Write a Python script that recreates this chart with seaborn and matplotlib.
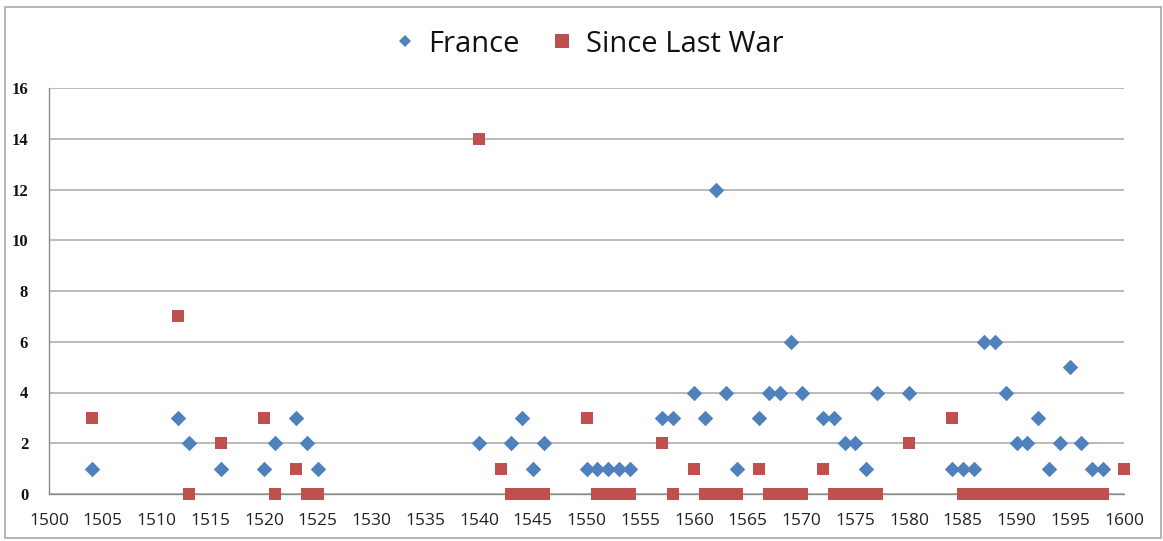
import matplotlib
matplotlib.use("Agg")
import matplotlib.pyplot as plt
import seaborn as sns
import pandas as pd
from matplotlib.lines import Line2D
from matplotlib.patches import Rectangle

# ---- data ----
france_years = [1504, 1512, 1513, 1516, 1520, 1521, 1523, 1524, 1525,
                1540, 1543, 1544, 1545, 1546,
                1550, 1551, 1552, 1553, 1554, 1557, 1558,
                1560, 1561, 1562, 1563, 1564, 1566, 1567, 1568, 1569, 1570,
                1572, 1573, 1574, 1575, 1576, 1577, 1580,
                1584, 1585, 1586, 1587, 1588, 1589, 1590, 1591, 1592, 1593,
                1594, 1595, 1596, 1597, 1598]
france_values = [1, 3, 2, 1, 1, 2, 3, 2, 1,
                 2, 2, 3, 1, 2,
                 1, 1, 1, 1, 1, 3, 3,
                 4, 3, 12, 4, 1, 3, 4, 4, 6, 4,
                 3, 3, 2, 2, 1, 4, 4,
                 1, 1, 1, 6, 6, 4, 2, 2, 3, 1,
                 2, 5, 2, 1, 1]

war_years = [1504, 1512, 1513, 1516, 1520, 1521, 1523, 1524, 1525,
             1540, 1542, 1543, 1544, 1545, 1546,
             1550, 1551, 1552, 1553, 1554, 1557, 1558,
             1560, 1561, 1562, 1563, 1564, 1566, 1567, 1568, 1569, 1570,
             1572, 1573, 1574, 1575, 1576, 1577, 1580,
             1584, 1585, 1586, 1587, 1588, 1589, 1590, 1591, 1592, 1593,
             1594, 1595, 1596, 1597, 1598, 1600]
war_values = [3, 7, 0, 2, 3, 0, 1, 0, 0,
              14, 1, 0, 0, 0, 0,
              3, 0, 0, 0, 0, 2, 0,
              1, 0, 0, 0, 0, 1, 0, 0, 0, 0,
              1, 0, 0, 0, 0, 0, 2,
              3, 0, 0, 0, 0, 0, 0, 0, 0, 0,
              0, 0, 0, 0, 0, 1]

series_names = ["France", "Since Last War"]
x_ticks = list(range(1500, 1601, 5))
y_ticks = list(range(0, 17, 2))

BLUE = "#4F81BD"
RED = "#C0504D"

df_fr = pd.DataFrame({"year": france_years, "value": france_values})
df_war = pd.DataFrame({"year": war_years, "value": war_values})

sns.set_style("white")
plt.rcParams["font.family"] = ["Open Sans", "DejaVu Sans"]

W, H = 1163, 541
fig = plt.figure(figsize=(W / 100, H / 100), dpi=100)
ax = fig.add_axes([49 / W, (H - 494) / H, (1124 - 49) / W, (494 - 88) / H])

sns.scatterplot(data=df_fr, x="year", y="value", ax=ax, marker="D",
                color=BLUE, s=62, linewidth=0, clip_on=False, zorder=3)
sns.scatterplot(data=df_war, x="year", y="value", ax=ax, marker="s",
                color=RED, s=82, linewidth=0, clip_on=False, zorder=4)

ax.set_xlim(1500, 1600)
ax.set_ylim(0, 16)
ax.set_xticks(x_ticks)
ax.set_yticks(y_ticks)
ax.set_xlabel("")
ax.set_ylabel("")

ax.grid(axis="y", color="#B4B4B4", linewidth=1.3)
ax.grid(axis="x", visible=False)
ax.set_axisbelow(True)

for side in ["top", "right"]:
    ax.spines[side].set_visible(False)
for side in ["left", "bottom"]:
    ax.spines[side].set_color("#8C8C8C")
    ax.spines[side].set_linewidth(1.0)

ax.tick_params(axis="x", direction="out", length=6, width=1, color="#8C8C8C",
               pad=8, labelsize=12.5, labelcolor="#222222")
ax.tick_params(axis="y", direction="out", length=5, width=1, color="#8C8C8C",
               pad=10, labelsize=12, labelcolor="#111111")
for lab in ax.get_yticklabels():
    lab.set_fontfamily(["Liberation Serif", "DejaVu Serif"])
    lab.set_fontweight("bold")

# legend
handles = [
    Line2D([], [], marker="D", linestyle="", color=BLUE, markersize=6.0, markeredgewidth=0),
    Line2D([], [], marker="s", linestyle="", color=RED, markersize=10, markeredgewidth=0),
]
fig.legend(handles, series_names, loc="center", ncol=2,
           bbox_to_anchor=(589 / W, 1 - 44 / H), frameon=False,
           fontsize=21, handlelength=0.7, handletextpad=0.45,
           columnspacing=1.1, labelcolor="#111111")

# outer chart border
fig.patches.append(Rectangle((5 / W, 1 - 538 / H), (1161 - 5) / W, (538 - 7) / H,
                             transform=fig.transFigure, fill=False,
                             edgecolor="#A8A8A8", linewidth=1.2))

fig.savefig("out.png", dpi=100, facecolor="white")
